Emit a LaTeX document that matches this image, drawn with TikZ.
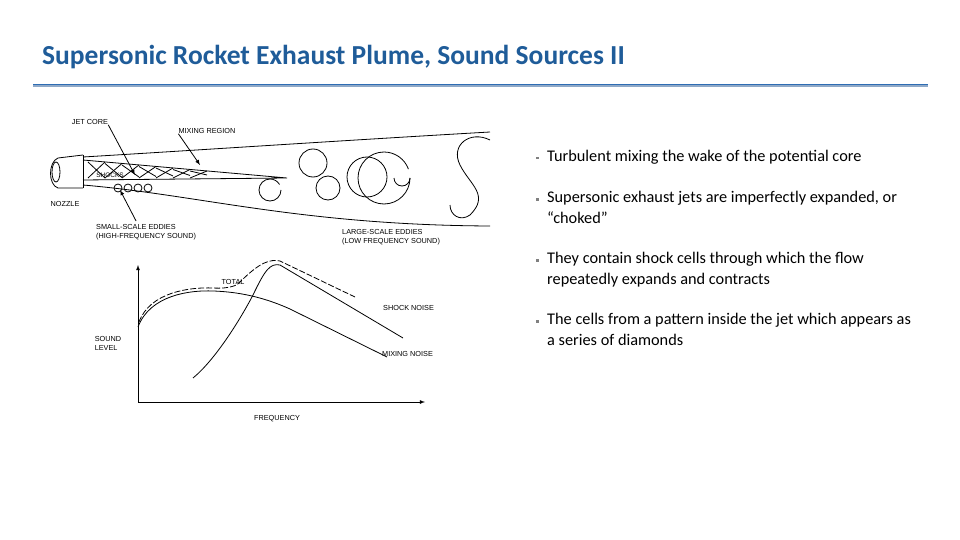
\documentclass[tikz,border=0pt]{standalone}
\usepackage{fontspec}
\setmainfont{Carlito}
\newfontfamily\lab{Liberation Sans}
\definecolor{ttl}{HTML}{1F5C99}
\definecolor{rule1}{HTML}{8FA9C8}
\definecolor{rule2}{HTML}{2E6DB4}
\begin{document}
\begin{tikzpicture}[x=1pt,y=-1pt,
  lbl/.style={font=\lab\fontsize{7.3}{9}\selectfont,inner sep=0pt,align=left},
  bul/.style={font=\fontsize{16.3}{20.5}\selectfont,anchor=north west,text width=380pt,inner sep=0pt,align=flush left},
  ln/.style={line width=0.8pt,black}]
\useasboundingbox (0,0) rectangle (960,540);
\node[anchor=west,text=ttl,font=\fontsize{27.5}{30}\selectfont\bfseries,inner sep=0pt] (title) at (42,57) {Supersonic Rocket Exhaust Plume, Sound Sources II};
\draw[rule1,line width=3pt] (33,86) -- (928,86);
\draw[rule2,line width=0.8pt] (33,84.5) -- (928,84.5);
% bullets
\foreach \y/\t in {150/{Turbulent mixing the wake of the potential core},
  191/{Supersonic exhaust jets are imperfectly expanded, or ``choked''},
  252/{They contain shock cells through which the flow repeatedly expands and contracts},
  313/{The cells from a pattern inside the jet which appears as\\a series of diamonds}}{
  \node[bul] at (547,\y) {\t};
  \fill[gray] (536,\y+7) rectangle (538.5,\y+9.5);
}
% plume
\draw[ln] (83,157) .. controls (200,150) and (350,140) .. (490,132);
\draw[ln] (83,185) .. controls (200,195) and (300,225) .. (490,226);
\draw[ln] (83,155) -- (83,188);
\draw[ln] (83,155) -- (58,158) .. controls (48,162) and (48,185) .. (58,188) -- (83,188);
\draw[ln] (56,172) ellipse (4 and 10);
\draw[ln] (83,160) -- (287,178) -- (83,180);
\foreach \i in {0,...,6}{
  \draw[ln] (88+17*\i,162+1.5*\i) -- (105+17*\i,178-0.5*\i);
  \draw[ln] (88+17*\i,178) -- (105+17*\i,162+1.5*\i);
}
\foreach \cx in {118,128,138,148} \draw[ln] (\cx,188) circle (4);
% eddies
\draw[ln] (313,163) circle (14);
\draw[ln] (281,190) arc (0:330:11);
\draw[ln] (328,188) circle (12);
\draw[ln] (367,177) circle (20);
\draw[ln] (410,178) arc (0:340:26);
\draw[ln] (410,178) arc (0:180:8);
\draw[ln] (490,140) .. controls (470,130) and (450,145) .. (460,165) .. controls (470,185) and (490,195) .. (470,215) .. controls (460,222) and (450,215) .. (450,205);
% labels
\node[lbl] (jc) at (90,122) {JET CORE};
\node[lbl] (mr) at (207,131) {MIXING REGION};
\node[lbl,font=\lab\fontsize{6.5}{7}\selectfont] (sh) at (110,175) {SHOCKS};
\node[lbl] (nz) at (65,204) {NOZZLE};
\node[lbl,anchor=west] (se) at (96,232) {SMALL-SCALE EDDIES\\(HIGH-FREQUENCY SOUND)};
\node[lbl,anchor=west] (le) at (342,237) {LARGE-SCALE EDDIES\\(LOW FREQUENCY SOUND)};
\coordinate (jcT) at (135,175);
\coordinate (mrT) at (200,165);
\coordinate (seT) at (120,190);
\draw[ln,-latex] (jc.south east) -- (jcT);
\draw[ln,-latex] (mr.south west) -- (mrT);
\draw[ln,-latex] (se.north) ++(-10,-3) -- (seT);
% graph
\coordinate (O) at (138,402);
\coordinate (YT) at (138,265);
\coordinate (XT) at (425,402);
\draw[ln,-latex] (O) -- (YT);
\draw[ln,-latex] (O) -- (XT);
\draw[ln] (138,327) .. controls (150,295) and (190,290) .. (213,291) .. controls (245,292) and (270,300) .. (290,309) -- (387,357);
\draw[ln] (193,378) .. controls (215,360) and (240,320) .. (253,295) .. controls (265,270) and (270,263) .. (280,265) -- (403,338);
\draw[ln,dashed,dash pattern=on 6pt off 2pt] (139,322) .. controls (150,292) and (190,287) .. (213,288) .. controls (230,289) and (238,285) .. (240,282) .. controls (260,262) and (270,259) .. (280,261) -- (355,297);
\node[lbl] (tot) at (233,282) {TOTAL};
\node[lbl,anchor=west] (shn) at (383,308) {SHOCK NOISE};
\node[lbl,anchor=west] (mxn) at (382,354) {MIXING NOISE};
\node[lbl] (sl) at (108,343) {SOUND\\LEVEL};
\node[lbl] (fq) at (277,419) {FREQUENCY};
\end{tikzpicture}
\end{document}
